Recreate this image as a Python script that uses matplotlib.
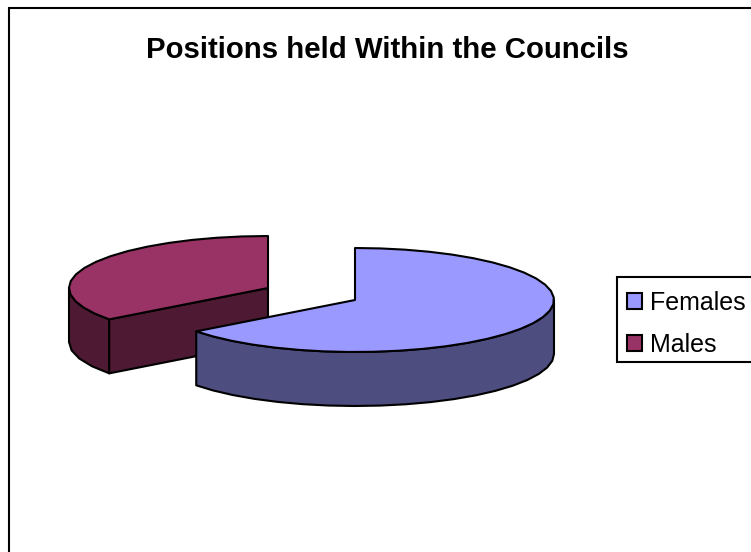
import numpy as np
import matplotlib
matplotlib.use("Agg")
import matplotlib.pyplot as plt
from matplotlib.patches import Polygon, Patch, Rectangle

categories = ["Females", "Males"]
shares = [64.7, 35.3]
top_colors = ["#9999FF", "#993366"]
side_colors = ["#4D4D80", "#4D1933"]
title = "Positions held Within the Councils"

plt.rcParams["font.family"] = ["Liberation Sans", "DejaVu Sans"]

W, H = 751, 552
fig = plt.figure(figsize=(W / 100, H / 100), dpi=100)
ax = fig.add_axes([0, 0, 1, 1])
ax.set_xlim(0, W)
ax.set_ylim(H, 0)
ax.axis("off")

# Ellipse of the tilted pie, in figure pixels
RX, RY, DEPTH = 199, 52, 54
LW = 1.5


def rim(cx, cy, a0, a1, drop=0.0):
    # Angles run clockwise from twelve o'clock; a coarse step keeps the faceted outline
    t = np.radians(np.linspace(a0, a1, max(int(abs(a1 - a0) / 7), 2)))
    return np.column_stack([cx + RX * np.sin(t), cy - RY * np.cos(t) + drop])


def face(points, color, z):
    ax.add_patch(Polygon(points, closed=True, facecolor=color, edgecolor="black",
                         linewidth=LW, joinstyle="round", zorder=z))


split = 360 * shares[0] / sum(shares)

# Males slice, pulled away to the upper left
mx, my = 268, 288
edge = rim(mx, my, split, 360)[0]
wall = rim(mx, my, split, 270)
face(np.vstack([wall, (wall + [0, DEPTH])[::-1]]), side_colors[1], 1)
face(np.array([[mx, my], edge, edge + [0, DEPTH], [mx, my + DEPTH]]), side_colors[1], 1)
face(np.vstack([[mx, my], rim(mx, my, split, 360)]), top_colors[1], 2)

# Females slice
fx, fy = 355, 300
wall = rim(fx, fy, 90, split)
face(np.vstack([wall, (wall + [0, DEPTH])[::-1]]), side_colors[0], 3)
face(np.vstack([[fx, fy], rim(fx, fy, 0, split)]), top_colors[0], 4)

ax.text(387.5, 50, title, fontsize=21.2, fontweight="bold", ha="center", va="center",
        color="black")

# Chart frame: the right and bottom edges fall outside the canvas
ax.plot([9, 9, W + 5], [H + 5, 8, 8], color="black", lw=LW, clip_on=False,
        solid_joinstyle="miter")

# Legend box runs off the right edge of the canvas
ax.add_patch(Rectangle((617, 277), 150, 85, facecolor="white", edgecolor="black",
                       linewidth=LW, zorder=5))
handles = [Patch(facecolor=c, edgecolor="black", linewidth=LW) for c in top_colors]
legend = ax.legend(handles, categories, loc="upper left", bbox_to_anchor=(627 / W, 1 - 291 / H),
                   bbox_transform=fig.transFigure, fontsize=18, frameon=False,
                   borderaxespad=0, borderpad=0, handlelength=0.58, handleheight=0.58,
                   handletextpad=0.32, labelspacing=0.72)
legend.set_zorder(6)

fig.savefig("out.png", dpi=100)
